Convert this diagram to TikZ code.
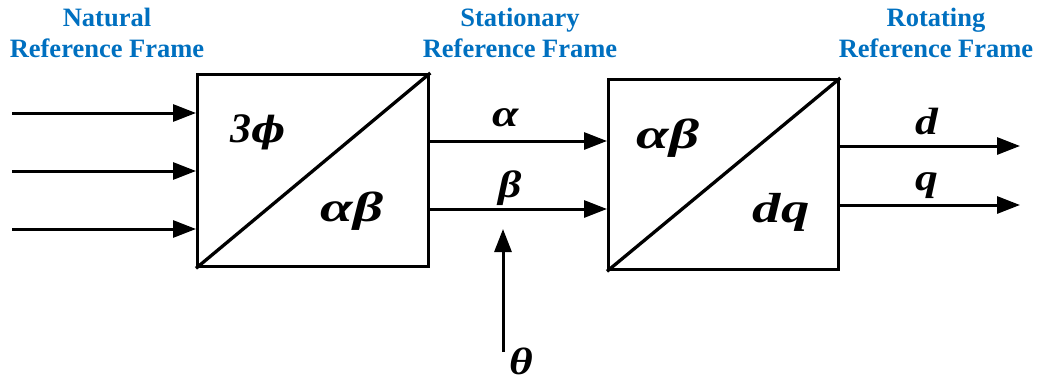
\documentclass[tikz,border=0pt]{standalone}
\usepackage{fontspec}
\setmainfont{Liberation Serif}
\newfontfamily\phifont{DejaVu Serif}
\usetikzlibrary{arrows.meta}
\definecolor{hdrblue}{RGB}{0,112,192}
\tikzset{
  box/.style={draw, line width=3.3pt, inner sep=0pt, anchor=north west},
  diag/.style={line width=3.3pt},
  arr/.style={line width=3pt, -{Triangle[length=23pt,width=17pt]}},
  hdr/.style={text=hdrblue, font=\fontsize{26.5}{31}\selectfont\bfseries, align=center},
  sym/.style={font=\fontsize{42}{46}\selectfont\bfseries\itshape, inner sep=0pt},
  lab/.style={font=\fontsize{38}{42}\selectfont\bfseries\itshape, inner sep=0pt}
}
\begin{document}
\begin{tikzpicture}[x=1pt,y=-1pt]
\useasboundingbox (0,0) rectangle (1045,383);
% headers
\node[hdr] (h1) at (107,33) {Natural\\Reference Frame};
\node[hdr] (h2) at (520,33) {Stationary\\Reference Frame};
\node[hdr] (h3) at (936,33) {Rotating\\Reference Frame};
% boxes
\node[box, minimum width=231pt, minimum height=192pt] (b1) at (196,73) {};
\node[box, minimum width=230pt, minimum height=190pt] (b2) at (607,78) {};
\draw[diag] (b1.south west) -- (b1.north east);
\draw[diag] (b2.south west) -- (b2.north east);
% box labels
\node[sym] (l1) at (258,132) {3{\phifont\fontsize{36}{40}\selectfont ϕ}};
\node[sym] (l2) at (352,211) {\scalebox{1.4}[1]{αβ}};
\node[sym] (l3) at (668,138) {\scalebox{1.4}[1]{αβ}};
\node[sym] (l4) at (781,212) {\scalebox{1.35}[1]{dq}};
% inputs
\coordinate (i1) at (12,113);
\coordinate (i2) at (12,171);
\coordinate (i3) at (12,229);
\draw[arr] (i1) -- (i1 -| b1.west);
\draw[arr] (i2) -- (i2 -| b1.west);
\draw[arr] (i3) -- (i3 -| b1.west);
% alpha beta
\coordinate (a0) at (427,141);
\coordinate (c0) at (427,209);
\draw[arr] (a0) -- (a0 -| b2.west);
\draw[arr] (c0) -- (c0 -| b2.west);
\node[lab] (la) at (506,118) {\scalebox{1.25}[1]{α}};
\node[lab] (lb) at (510,188) {\scalebox{1.2}[1]{β}};
% outputs
\coordinate (d0) at (837,146);
\coordinate (q0) at (837,205);
\coordinate (d1) at (1020,146);
\coordinate (q1) at (1020,205);
\draw[arr] (d0) -- (d1);
\draw[arr] (q0) -- (q1);
\node[lab] (ld) at (927,122) {\scalebox{1.2}[1]{d}};
\node[lab] (lq) at (927,186) {\scalebox{1.2}[1]{q}};
% theta
\coordinate (t0) at (503,352);
\coordinate (t1) at (503,229);
\draw[arr] (t0) -- (t1);
\node[lab] (lt) at (521,361) {\scalebox{1.2}[1]{θ}};
\end{tikzpicture}
\end{document}
